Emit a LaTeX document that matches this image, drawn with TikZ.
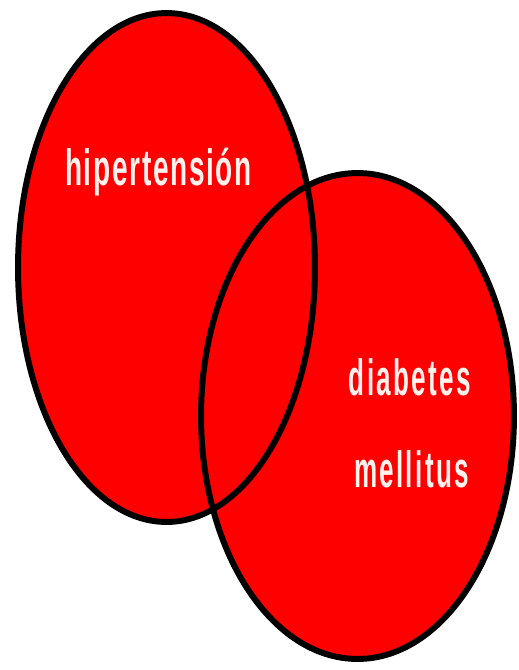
\documentclass[tikz,border=0pt]{standalone}
\usepackage{fontspec}
\setmainfont{Liberation Sans}
\usepackage{tikz}
\definecolor{setred}{RGB}{255,0,0}
\definecolor{labelwhite}{RGB}{255,242,236}
\tikzset{
  setfill/.style={fill=setred},
  setrim/.style={draw=black,line width=3.4pt},
  setlabel/.style={anchor=base,inner sep=0pt,text=labelwhite,
                   font=\bfseries\fontsize{29}{29}\selectfont\addfontfeature{LetterSpace=6},xscale=0.55},
  smalllabel/.style={setlabel,
                   font=\bfseries\fontsize{29}{29}\selectfont\addfontfeature{LetterSpace=9},xscale=0.93},
}
\begin{document}
\begin{tikzpicture}[x=0.02cm,y=-0.02cm]
  \fill[white] (0,0) rectangle (518,670);
  \useasboundingbox (0,0) rectangle (518,670);
  \coordinate (hipc) at (166.5,267.5);
  \coordinate (diac) at (357.5,416);
  % the two sets
  \fill[setfill] (hipc) ellipse [x radius=2.97cm,y radius=5.09cm];
  \fill[setfill] (diac) ellipse [x radius=3.13cm,y radius=4.86cm];
  \draw[setrim]  (hipc) ellipse [x radius=2.97cm,y radius=5.09cm];
  \draw[setrim]  (diac) ellipse [x radius=3.13cm,y radius=4.86cm];
  % labels
  \node[setlabel]   (hip) at (158.5,185) {hipertensión};
  \node[smalllabel] (dia) at (410,395)   {diabetes};
  \node[smalllabel] (mel) at (411.5,487) {mellitus};
\end{tikzpicture}
\end{document}
